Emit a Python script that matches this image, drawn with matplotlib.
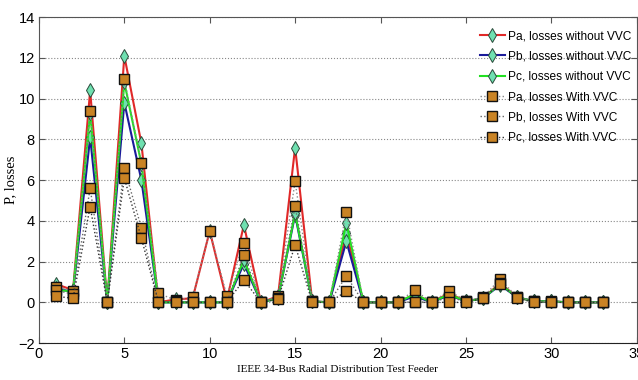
import matplotlib
matplotlib.use("Agg")
import matplotlib.pyplot as plt
import numpy as np

bus = list(range(1, 34))

pa_without = [0.9, 0.6, 10.4, 0.0, 12.1, 7.8, 0.0, 0.15, 0.2, 3.5, 0.1, 3.8, 0.0, 0.3, 7.6, 0.05, 0.0, 3.4,
              0.0, 0.0, 0.0, 0.4, 0.0, 0.45, 0.05, 0.2, 0.95, 0.25, 0.05, 0.05, 0.0, 0.0, 0.0]
pb_without = [0.7, 0.5, 8.1, 0.0, 9.8, 6.0, 0.0, 0.0, 0.0, 0.0, 0.0, 1.9, 0.0, 0.2, 4.3, 0.05, 0.0, 3.0,
              0.0, 0.0, 0.0, 0.3, 0.0, 0.35, 0.05, 0.2, 0.85, 0.25, 0.05, 0.05, 0.0, 0.0, 0.0]
pc_without = [0.6, 0.55, 9.3, 0.0, 10.8, 6.8, 0.0, 0.0, 0.0, 0.0, 0.0, 2.1, 0.0, 0.2, 4.4, 0.05, 0.0, 3.9,
              0.0, 0.0, 0.0, 0.4, 0.0, 0.4, 0.05, 0.2, 0.9, 0.25, 0.05, 0.05, 0.0, 0.0, 0.0]
pa_with = [0.75, 0.57, 9.4, 0.0, 10.95, 6.85, 0.44, 0.11, 0.25, 3.5, 0.33, 2.93, 0.0, 0.3, 5.95, 0.05, 0.0, 4.45,
           0.0, 0.0, 0.0, 0.6, 0.0, 0.57, 0.08, 0.25, 1.15, 0.25, 0.05, 0.05, 0.0, 0.0, 0.0]
pb_with = [0.6, 0.4, 5.6, 0.0, 6.6, 3.65, 0.0, 0.05, 0.0, 0.0, 0.0, 2.33, 0.0, 0.2, 4.72, 0.05, 0.0, 1.3,
           0.0, 0.0, 0.0, 0.03, 0.0, 0.25, 0.05, 0.2, 0.93, 0.25, 0.05, 0.0, 0.0, 0.0, 0.0]
pc_with = [0.3, 0.2, 4.7, 0.0, 6.1, 3.15, 0.0, 0.0, 0.0, 0.0, 0.0, 1.1, 0.0, 0.15, 2.82, 0.0, 0.0, 0.55,
           0.0, 0.0, 0.0, 0.0, 0.0, 0.0, 0.0, 0.2, 0.9, 0.2, 0.0, 0.0, 0.0, 0.0, 0.0]

labels = ["Pa, losses without VVC", "Pb, losses without VVC", "Pc, losses without VVC",
          "Pa, losses With VVC", "Pb, losses With VVC", "Pc, losses With VVC"]

xticks = [0, 5, 10, 15, 20, 25, 30, 35]
yticks = [-2, 0, 2, 4, 6, 8, 10, 12, 14]

plt.rcParams['font.family'] = ['Liberation Sans', 'DejaVu Sans']

fig = plt.figure(figsize=(6.38, 3.80), dpi=100)
ax = fig.add_axes([0.061, 0.097, 0.937, 0.858])

diamond_face = '#6fe0b0'
square_face = '#c98324'
for vals, col, lab in zip([pa_without, pb_without, pc_without],
                          ['#e02828', '#1a1a9a', '#22e022'], labels[:3]):
    ax.plot(bus, vals, color=col, lw=1.5, marker='d', markersize=7.5,
            markerfacecolor=diamond_face, markeredgecolor='#2a4a3a', markeredgewidth=0.7,
            label=lab, zorder=3)
for vals, col, lab in zip([pa_with, pb_with, pc_with],
                          ['#888888', '#666666', '#333333'], labels[3:]):
    ax.plot(bus, vals, color=col, lw=1.0, ls=':', marker='s', markersize=7,
            markerfacecolor=square_face, markeredgecolor='#111111', markeredgewidth=1.0,
            label=lab, zorder=4)

ax.set_xlim(0, 35)
ax.set_ylim(-2, 14)
ax.set_xticks(xticks)
ax.set_yticks(yticks)
ax.tick_params(direction='in', length=4, top=True, right=True, labelsize=10.5,
               color='#555555', pad=3)
ax.yaxis.grid(True, ls=':', color='#888888', lw=0.8)
ax.set_axisbelow(True)
for s in ax.spines.values():
    s.set_color('#555555')
ax.spines['bottom'].set_color('#222222')

ax.set_xlabel("IEEE 34-Bus Radial Distribution Test Feeder", family='Liberation Serif',
              fontsize=8, labelpad=3)
ax.set_ylabel("P, losses", family='Liberation Serif', fontsize=10.5)
ax.yaxis.set_label_coords(-0.037, 0.5)

leg = ax.legend(loc='upper right', frameon=False, fontsize=8.6, handlelength=2.1,
                handletextpad=0.25, labelspacing=0.7, borderaxespad=0.0,
                bbox_to_anchor=(0.999, 0.975))

fig.savefig("out.png", dpi=100)
